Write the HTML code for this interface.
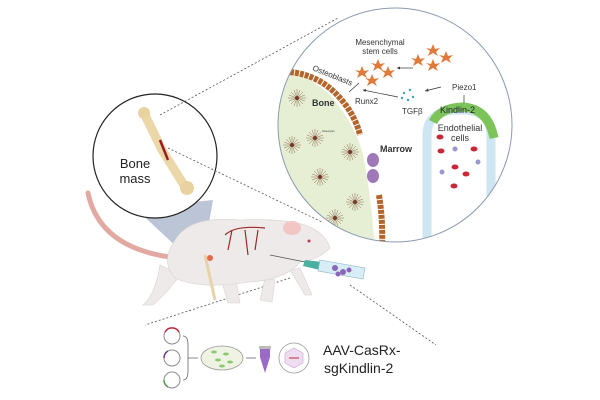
<!DOCTYPE html>
<html><head><meta charset="utf-8"><style>
html,body{margin:0;padding:0;background:#fff;width:600px;height:400px;overflow:hidden}
svg{display:block;font-family:"Liberation Sans","DejaVu Sans",sans-serif}
</style></head><body>
<svg width="600" height="400" viewBox="0 0 600 400">
<defs>
<clipPath id="bc"><circle cx="395" cy="125" r="117"/></clipPath>
<g id="ost"><g stroke="#8a6a50" stroke-width="0.5" fill="none">
<path d="M0 -9V9M-9 0H9M-6 -6L6 6M-6 6L6 -6M-3 -8L3 8M3 -8L-3 8M-8 -3L8 3M-8 3L8 -3"/></g><circle r="2" fill="#7a3a2a"/></g>
<g id="msc"><path d="M0 -6L2 -1L7 -2L3 2L5 6L0 3L-5 6L-3 1L-7 -2L-2 -1Z" fill="#e07a3a"/></g>
</defs>
<!-- tail -->
<path d="M88 193 Q100 250 178 258" stroke="#e2a9a2" stroke-width="5" fill="none" stroke-linecap="round"/>
<g stroke="#555" stroke-width="0.8" stroke-dasharray="2,2" fill="none">
<line x1="290" y1="278" x2="145" y2="325"/>
<line x1="350" y1="285" x2="436" y2="345"/>
</g>
<!-- big circle -->
<circle cx="395" cy="125" r="117" fill="#fff"/>
<g clip-path="url(#bc)">
<path d="M270 70 Q300 68 330 95 Q360 130 365 165 Q372 205 375 250 L270 250Z" fill="#e6efd4"/>
<path d="M290 72 Q320 75 340 98 Q355 115 360 135" stroke="#b4652a" stroke-width="6" fill="none" stroke-dasharray="4,1"/>
<path d="M379 195 Q383 220 382 245" stroke="#b4652a" stroke-width="6" fill="none" stroke-dasharray="4,1"/>
<use href="#ost" x="297" y="98"/><use href="#ost" x="315" y="138"/><use href="#ost" x="292" y="145"/>
<use href="#ost" x="350" y="152"/><use href="#ost" x="320" y="177"/><use href="#ost" x="355" y="202"/>
<use href="#ost" x="300" y="205"/><use href="#ost" x="335" y="218"/>
<path d="M427 250 V135 Q427 112 455 110 H466 Q491 112 491 135 V250" stroke="#cde6f2" stroke-width="9" fill="none"/>
<path d="M433 122 Q440 108 462 107 Q488 108 494 138" stroke="#7cc35a" stroke-width="9" fill="none"/>
</g>
<circle cx="395" cy="125" r="117" fill="none" stroke="#8a9ab0" stroke-width="1"/>
<ellipse cx="373" cy="160" rx="6" ry="7" fill="#a07ab8"/><ellipse cx="373" cy="176" rx="6" ry="7" fill="#a07ab8"/>
<use href="#msc" x="362" y="72"/><use href="#msc" x="378" y="65"/><use href="#msc" x="388" y="72"/><use href="#msc" x="372" y="80"/>
<use href="#msc" x="418" y="60"/><use href="#msc" x="433" y="50"/><use href="#msc" x="446" y="57"/><use href="#msc" x="433" y="65"/>
<g fill="#35a8b5"><circle cx="404" cy="93" r="1.2"/><circle cx="410" cy="90" r="1.2"/><circle cx="413" cy="97" r="1.2"/><circle cx="408" cy="100" r="1.2"/><circle cx="402" cy="98" r="1.2"/></g>
<g stroke="#333" stroke-width="0.7" fill="none">
<line x1="413" y1="68" x2="397" y2="68"/><line x1="441" y1="87" x2="425" y2="91"/>
<line x1="398" y1="97" x2="363" y2="90"/><line x1="359" y1="83" x2="349" y2="92"/>
<line x1="464" y1="103" x2="464" y2="95"/></g>
<g fill="#333"><path d="M397 68l3 -1.5v3z"/><path d="M425 91l3 -2.5 .5 3z"/><path d="M363 90l3 -1 -.5 3z"/></g>
<g fill="#c8273a"><ellipse cx="440" cy="137" rx="3.5" ry="2.5"/><ellipse cx="441" cy="151" rx="3.5" ry="2.5"/><ellipse cx="474" cy="149" rx="3.5" ry="2.5"/><ellipse cx="455" cy="167" rx="3.5" ry="2.5"/><ellipse cx="466" cy="174" rx="3.5" ry="2.5"/><ellipse cx="454" cy="186" rx="3.5" ry="2.5"/></g>
<g fill="#9a96d0"><circle cx="455" cy="149" r="2.5"/><circle cx="478" cy="162" r="2.5"/><circle cx="442" cy="172" r="2.5"/></g>
<g fill="#333" font-size="8">
<text x="380" y="45" text-anchor="middle">Mesenchymal</text><text x="380" y="54" text-anchor="middle">stem cells</text>
<text x="312" y="70" transform="rotate(22 312 70)">Osteoblasts</text>
<text x="355" y="104">Runx2</text><text x="402" y="114">TGFβ</text><text x="452" y="90">Piezo1</text>
<text x="440" y="113" font-size="9" fill="#223">Kindlin-2</text>
<text x="460" y="131" text-anchor="middle" font-size="9">Endothelial</text><text x="460" y="141" text-anchor="middle" font-size="9">cells</text>
<text x="312" y="106" font-size="9" font-weight="bold">Bone</text>
<text x="380" y="152" font-size="9" font-weight="bold">Marrow</text>
<text x="322" y="132" font-size="2.5">Osteocytes</text></g>
<path d="M135 208 L213 200 L205 245 L180 250Z" fill="#9eacc4" opacity="0.7"/>
<circle cx="155" cy="156" r="62" fill="#fff" stroke="#222" stroke-width="1.2"/>
<path d="M145 115 L162 150 L184 185" stroke="#ecd7a8" stroke-width="9" fill="none" stroke-linecap="round"/>
<circle cx="144" cy="113" r="6" fill="#e8d2a0"/><circle cx="187" cy="188" r="7" fill="#e8d2a0"/>
<path d="M160 140 L168 160" stroke="#9a1f22" stroke-width="2.5"/>
<text x="135" y="168" text-anchor="middle" font-size="13" fill="#222">Bone</text>
<text x="135" y="183" text-anchor="middle" font-size="13" fill="#222">mass</text>
<g stroke="#555" stroke-width="0.8" stroke-dasharray="2,2" fill="none">
<line x1="160" y1="115" x2="338" y2="18"/>
<line x1="168" y1="148" x2="322" y2="222"/>
</g>
<g fill="#eeeaea" stroke="#d8d2d2" stroke-width="0.6">
<path d="M160 265 Q155 295 143 305 L153 305 Q170 290 180 275Z"/>
<path d="M220 275 L228 303 L240 303 L235 275Z"/>
<path d="M265 278 L260 300 L272 302 L275 280Z"/>
<path d="M290 270 L305 295 L312 295 L300 268Z"/>
<path d="M175 240 Q190 215 240 220 Q280 218 305 225 Q325 232 330 248 Q318 260 300 262 Q285 280 250 282 Q200 290 175 278 Q160 262 175 240Z"/>
</g>
<ellipse cx="292" cy="228" rx="9" ry="7" fill="#f2c6c4"/>
<circle cx="309" cy="241" r="1.5" fill="#c0394a"/>
<path d="M225 235 Q235 225 265 228 M232 230 L228 250 M245 230 L248 255 M258 230 L255 250" stroke="#9a2a2a" stroke-width="1.2" fill="none"/>
<path d="M205 255 L215 300" stroke="#e6d4a8" stroke-width="3"/>
<circle cx="210" cy="258" r="3" fill="#e06a4a"/>
<line x1="270" y1="255" x2="305" y2="262" stroke="#555" stroke-width="0.8"/>
<path d="M305 260 L322 262 L320 270 L303 266Z" fill="#4ab0a0"/>
<path d="M320 260 L365 268 L363 279 L318 271Z" fill="#d8eef6" stroke="#8ab0c8" stroke-width="0.6"/>
<g fill="#8a66b8"><circle cx="335" cy="268" r="3"/><circle cx="343" cy="272" r="3"/><circle cx="338" cy="274" r="2.5"/><circle cx="349" cy="270" r="2.5"/></g>
<circle cx="172" cy="336" r="8" fill="none" stroke="#8c8c8c"/><path d="M165 332 A8 8 0 0 1 179 332" stroke="#c0283a" stroke-width="1.5" fill="none"/>
<circle cx="172" cy="358" r="8" fill="none" stroke="#8c8c8c"/><path d="M164 358 A8 8 0 0 1 168 351" stroke="#6a3a8a" stroke-width="1.5" fill="none"/>
<circle cx="172" cy="380" r="8" fill="none" stroke="#8c8c8c"/><path d="M164 380 A8 8 0 0 0 168 387" stroke="#4a9a4a" stroke-width="1.5" fill="none"/>
<path d="M183 336 Q188 336 188 345 V371 Q188 380 183 380 M188 358 H198" stroke="#666" stroke-width="0.8" fill="none"/>
<ellipse cx="222" cy="358" rx="21" ry="12" fill="#eef3e4" stroke="#999" stroke-width="0.8"/>
<g fill="#8cc870"><ellipse cx="214" cy="352" rx="3" ry="1.5"/><ellipse cx="226" cy="354" rx="3" ry="1.5"/><ellipse cx="218" cy="360" rx="3" ry="1.5"/><ellipse cx="230" cy="362" rx="3" ry="1.5"/><ellipse cx="222" cy="366" rx="3" ry="1.5"/></g>
<line x1="246" y1="358" x2="256" y2="358" stroke="#666" stroke-width="0.8"/>
<path d="M260 349 H270 V357 L265 373 L260 357Z" fill="#9a6ac8"/><rect x="259" y="346" width="12" height="3" fill="#bbb"/>
<circle cx="294" cy="358" r="15" fill="#fff" stroke="#999" stroke-width="0.8"/>
<path d="M294 348 L303 353 V363 L294 368 L285 363 V353Z" fill="#eedcf0" stroke="#c9a5d0" stroke-width="0.6"/>
<line x1="289" y1="358" x2="299" y2="358" stroke="#c0283a" stroke-width="1"/>
<text x="323" y="355" font-size="14" fill="#222">AAV-CasRx-</text>
<text x="324" y="373" font-size="14" fill="#222">sgKindlin-2</text>
</svg>
</body></html>
